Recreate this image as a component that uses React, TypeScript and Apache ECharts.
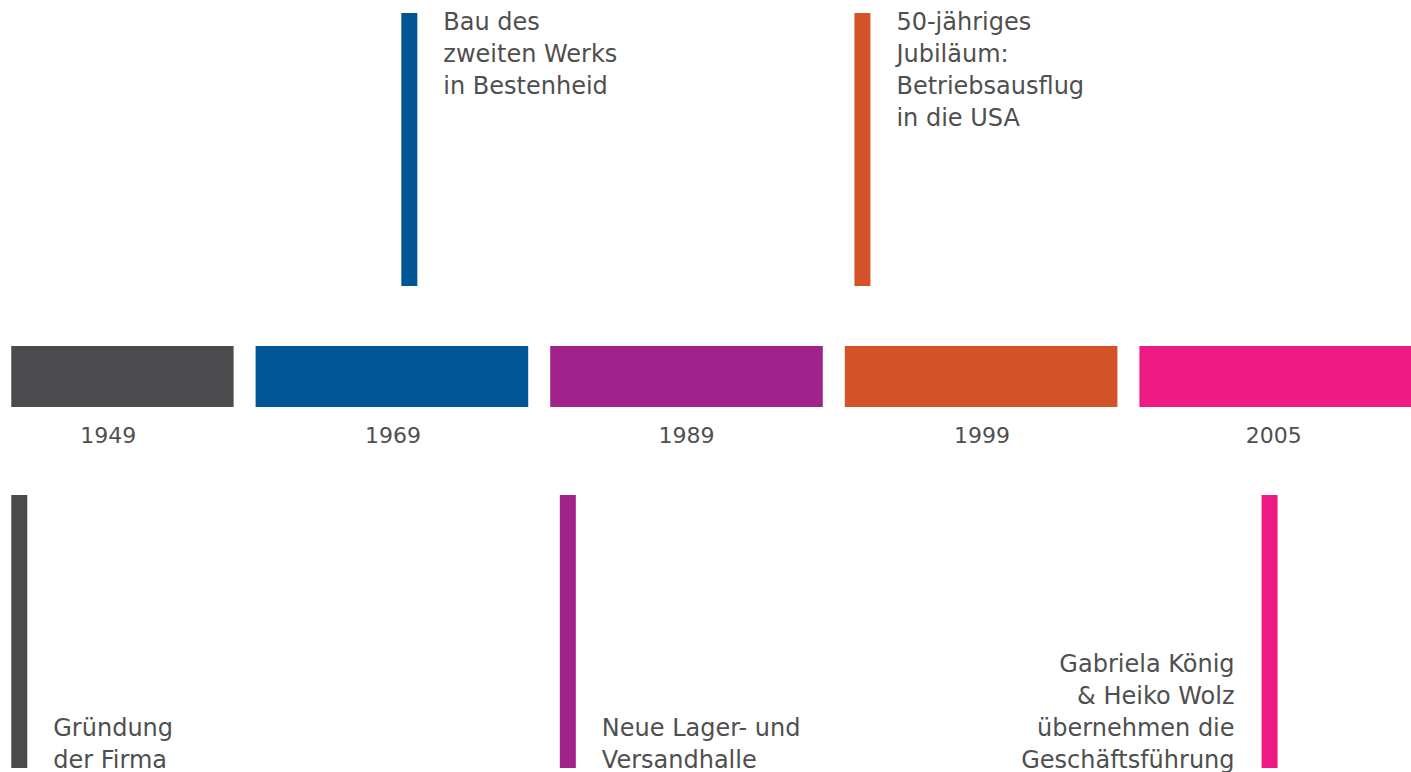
import React, { useEffect, useRef } from "react";
import * as echarts from "echarts";

// ---- data ----
const years = ["1949", "1969", "1989", "1999", "2005"];
const colors = ["#4b4b4d", "#005595", "#a1228b", "#d35228", "#ec1a82"];
const captions = [
  "Gründung\nder Firma",
  "Bau des\nzweiten Werks\nin Bestenheid",
  "Neue Lager- und\nVersandhalle",
  "50-jähriges\nJubiläum:\nBetriebsausflug\nin die USA",
  "Gabriela König\n& Heiko Wolz\nübernehmen die\nGeschäftsführung",
];
const sides = ["below", "above", "below", "above", "below"];
const textSides = ["right", "right", "right", "right", "left"];

// ---- layout (not data) ----
const markerShift = [-0.292, 0.032, -0.43, -0.43, -0.048]; // fraction of band width from band centre
const labelNudge = [11, 1, 0, 1, -2];
const W = 1411;
const H = 772;
const OFFSET = 50.25; // chart canvas starts left of the page so the first band is cut
const CHART_W = 1472.5;
const PAGE_EDGE = 11 + OFFSET;
const BAND_TOP = 346;
const BAND_H = 61;
const BAND_GAP = 22;
const MARK_W = 16;
const MARK_H = 273;
const TOP_MARK_Y = 13;
const BOTTOM_MARK_Y = 495;
const FONT = "'DejaVu Sans', sans-serif";
const TEXT_COLOR = "#4f4f4f";

export default function App() {
  const ref = useRef<HTMLDivElement>(null);
  useEffect(() => {
    const chart = echarts.init(ref.current!, null, { renderer: "svg" });
    chart.setOption({
      animation: false,
      backgroundColor: "#ffffff",
      grid: { left: 0, right: 0, top: 0, bottom: 0 },
      xAxis: { type: "category", data: years, show: false },
      yAxis: { type: "value", min: 0, max: 1, show: false },
      series: [
        {
          type: "custom",
          clip: false,
          data: years.map((_, i) => [i, 0]),
          renderItem: (params: any, api: any) => {
            const i = params.dataIndex;
            const cx = api.coord([i, 0])[0];
            const bw = api.size([1, 0])[0];
            const barW = bw - BAND_GAP;
            let x0 = cx - barW / 2;
            let x1 = cx + barW / 2;
            x0 = Math.max(x0, PAGE_EDGE);
            x1 = Math.min(x1, OFFSET + W);
            const mx = cx + markerShift[i] * bw;
            const drawX = Math.max(mx, PAGE_EDGE);
            const above = sides[i] === "above";
            const my = above ? TOP_MARK_Y : BOTTOM_MARK_Y;
            const right = textSides[i] === "right";
            return {
              type: "group",
              children: [
                {
                  type: "rect",
                  shape: { x: x0, y: BAND_TOP, width: x1 - x0, height: BAND_H },
                  style: { fill: colors[i] },
                },
                {
                  type: "text",
                  x: cx + labelNudge[i],
                  y: BAND_TOP + BAND_H + 28,
                  style: {
                    text: years[i],
                    fill: TEXT_COLOR,
                    font: `22px ${FONT}`,
                    align: "center",
                    verticalAlign: "middle",
                  },
                },
                {
                  type: "rect",
                  shape: { x: drawX, y: my, width: MARK_W, height: MARK_H },
                  style: { fill: colors[i] },
                },
                {
                  type: "text",
                  x: right ? drawX + 42 : drawX - 27,
                  y: above ? TOP_MARK_Y - 7 : BOTTOM_MARK_Y + MARK_H + 8,
                  style: {
                    text: captions[i],
                    fill: TEXT_COLOR,
                    font: `24px ${FONT}`,
                    lineHeight: 32,
                    align: right ? "left" : "right",
                    verticalAlign: above ? "top" : "bottom",
                  },
                },
              ],
            };
          },
        },
      ],
    });
    return () => chart.dispose();
  }, []);
  return (
    <div
      style={{
        position: "absolute",
        left: 0,
        top: 0,
        width: W,
        height: H,
        overflow: "hidden",
        background: "#ffffff",
      }}
    >
      <div
        ref={ref}
        style={{ position: "absolute", left: -OFFSET, top: 0, width: CHART_W, height: H }}
      />
    </div>
  );
}
